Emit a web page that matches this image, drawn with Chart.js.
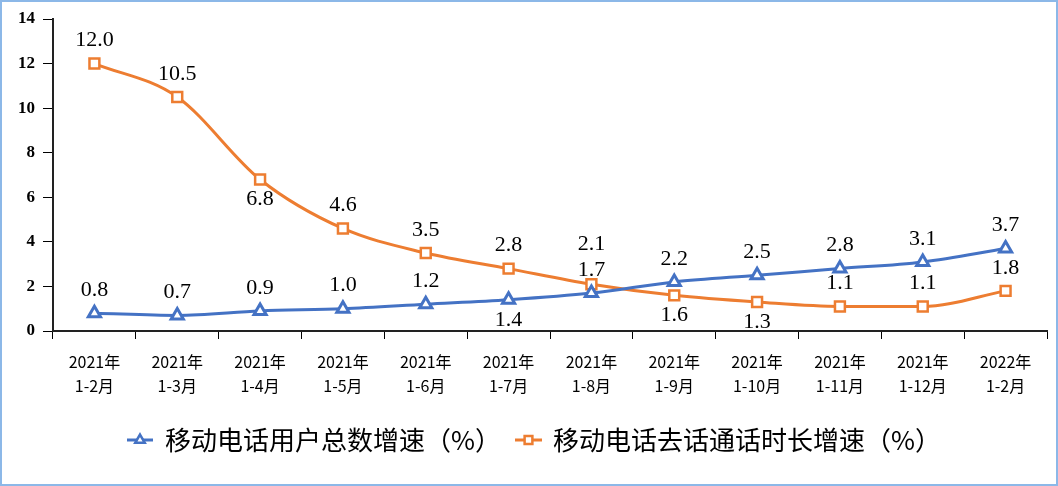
<!DOCTYPE html>
<html>
<head>
<meta charset="utf-8">
<script src="https://cdn.jsdelivr.net/npm/chart.js@4"></script>
<style>
  body { margin: 0; background: #fff; }
  #wrap { width: 1058px; height: 486px; position: relative; }
</style>
</head>
<body>
<div id="wrap"><canvas id="myChart"></canvas></div>
<script>
// chart data
const years = ['2021年', '2021年', '2021年', '2021年', '2021年', '2021年', '2021年', '2021年', '2021年', '2021年', '2021年', '2022年'];
const periods = ['1-2月', '1-3月', '1-4月', '1-5月', '1-6月', '1-7月', '1-8月', '1-9月', '1-10月', '1-11月', '1-12月', '1-2月'];
const userGrowth = [0.8, 0.7, 0.9, 1.0, 1.2, 1.4, 1.7, 2.2, 2.5, 2.8, 3.1, 3.7];
const callGrowth = [12.0, 10.5, 6.8, 4.6, 3.5, 2.8, 2.1, 1.6, 1.3, 1.1, 1.1, 1.8];
const seriesNames = ['移动电话用户总数增速（%）', '移动电话去话通话时长增速（%）'];
const yTicks = [0, 2, 4, 6, 8, 10, 12, 14];

// where each value label sits relative to its point
const userPlace = ['up', 'up', 'up', 'up', 'up', 'down', 'up', 'up', 'up', 'up', 'up', 'up'];
const callPlace = ['up', 'up', 'down', 'up', 'up', 'up', 'high', 'down', 'down', 'up', 'up', 'up'];
const placeOffset = { up: -23, down: 20, high: -40 };

const blue = '#4472C4';
const orange = '#ED7D31';

const labels = years.map((y, i) => [y, periods[i]]);

// value labels on the points
const valueLabels = {
  id: 'valueLabels',
  afterDatasetsDraw(chart) {
    const ctx = chart.ctx;
    const places = [userPlace, callPlace];
    ctx.save();
    ctx.font = '22px "Liberation Serif"';
    ctx.fillStyle = '#000';
    ctx.textAlign = 'center';
    ctx.textBaseline = 'middle';
    chart.data.datasets.forEach((ds, i) => {
      chart.getDatasetMeta(i).data.forEach((pt, j) => {
        ctx.fillText(ds.data[j].toFixed(1), pt.x, pt.y + placeOffset[places[i][j]]);
      });
    });
    ctx.restore();
  }
};

// legend + frame drawn by hand so the line sample shows too
const legendAndFrame = {
  id: 'legendAndFrame',
  beforeDraw(chart) {
    const ctx = chart.ctx;
    ctx.save();
    ctx.fillStyle = '#fff';
    ctx.fillRect(0, 0, chart.width, chart.height);
    ctx.restore();
  },
  afterDraw(chart) {
    const ctx = chart.ctx;
    const items = [
      { x1: 127, x2: 153, text: 165 },
      { x1: 515, x2: 542, text: 553 }
    ];
    const y = 440;
    ctx.save();
    chart.data.datasets.forEach((ds, i) => {
      const it = items[i];
      ctx.strokeStyle = ds.borderColor;
      ctx.lineWidth = 3;
      ctx.beginPath();
      ctx.moveTo(it.x1, y);
      ctx.lineTo(it.x2, y);
      ctx.stroke();
      ctx.fillStyle = '#fff';
      ctx.strokeStyle = ds.borderColor;
      ctx.lineWidth = 2.5;
      Chart.helpers.drawPoint(ctx, {
        pointStyle: ds.pointStyle,
        radius: 5.5,
        borderWidth: 2.5,
        rotation: 0
      }, (it.x1 + it.x2) / 2, y);
      ctx.fillStyle = '#000';
      ctx.font = '26px "Noto Sans CJK SC"';
      ctx.textBaseline = 'middle';
      ctx.fillText(ds.label, it.text, y);
    });
    ctx.strokeStyle = '#8CB8E8';
    ctx.lineWidth = 2;
    ctx.strokeRect(1, 1, chart.width - 2, chart.height - 2);
    ctx.restore();
  }
};

new Chart(document.getElementById('myChart'), {
  type: 'line',
  data: {
    labels: labels,
    datasets: [{
      label: seriesNames[0],
      data: userGrowth,
      borderColor: blue,
      backgroundColor: '#fff',
      borderWidth: 3,
      pointStyle: 'triangle',
      pointRadius: 7,
      pointBorderWidth: 3,
      pointBackgroundColor: '#fff',
      pointBorderColor: blue,
      cubicInterpolationMode: 'monotone'
    }, {
      label: seriesNames[1],
      data: callGrowth,
      borderColor: orange,
      backgroundColor: '#fff',
      borderWidth: 3,
      pointStyle: 'rect',
      pointRadius: 7,
      pointBorderWidth: 2.5,
      pointBackgroundColor: '#fff',
      pointBorderColor: orange,
      cubicInterpolationMode: 'monotone'
    }]
  },
  options: {
    responsive: true,
    maintainAspectRatio: false,
    animation: false,
    layout: { padding: { top: 19, right: 11, left: 0, bottom: 0 } },
    plugins: {
      legend: { display: false },
      tooltip: { enabled: false }
    },
    scales: {
      x: {
        offset: true,
        afterFit(scale) { scale.height = 155; },
        grid: { offset: true, drawOnChartArea: false, tickLength: 8, color: '#000', lineWidth: 1 },
        border: { color: '#222', width: 2 },
        ticks: {
          color: '#000',
          padding: 11,
          maxRotation: 0,
          autoSkip: false,
          font: { family: '"Noto Sans CJK SC"', size: 16, lineHeight: 1.5 }
        }
      },
      y: {
        min: 0,
        max: 14,
        afterFit(scale) { scale.width = 53; },
        afterBuildTicks(scale) { scale.ticks = yTicks.map(v => ({ value: v })); },
        grid: { drawOnChartArea: false, tickLength: 10, color: '#000', lineWidth: 1 },
        border: { color: '#222', width: 2 },
        ticks: {
          color: '#000',
          padding: 8,
          font: { family: '"Liberation Serif"', size: 17, weight: 'bold' }
        }
      }
    }
  },
  plugins: [valueLabels, legendAndFrame]
});
</script>
</body>
</html>
